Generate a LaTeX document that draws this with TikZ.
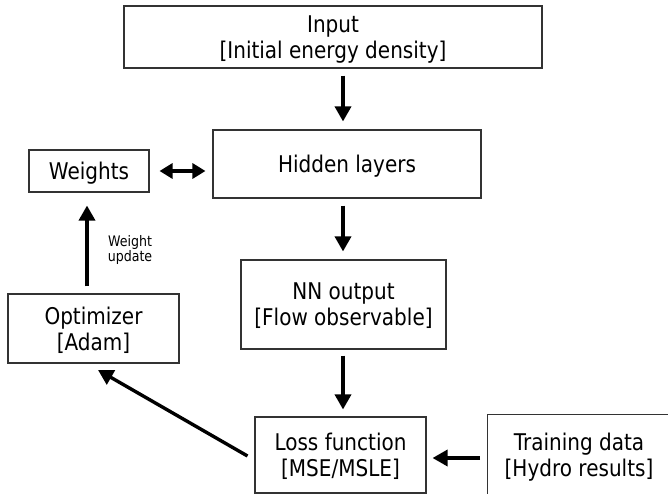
\documentclass[tikz,border=0pt]{standalone}
\usepackage{fontspec}
\setmainfont[FakeStretch=0.87]{DejaVu Sans}
\usetikzlibrary{arrows.meta}
\tikzset{
  box/.style={draw=black!80, line width=1.1pt, inner sep=0pt, align=center, text depth=0pt,
    font=\fontsize{23}{26}\selectfont},
  arr/.style={line width=3.4pt, -{Triangle[length=15pt,width=16pt]}},
  darr/.style={line width=3.4pt, {Triangle[length=13pt,width=15pt]}-{Triangle[length=13pt,width=15pt]}},
  small/.style={font=\fontsize{14.5}{15.5}\selectfont, align=center, inner sep=0pt}
}
\begin{document}
\begin{tikzpicture}[x=1pt,y=-1pt]
\useasboundingbox (0,0) rectangle (668,494);
\clip (0,0) rectangle (668,494);
\node[box, minimum width=418pt, minimum height=62pt] (inp) at (333,37) {Input\\{}[Initial energy density]};
\node[box, minimum width=268pt, minimum height=68pt] (hid) at (347,164) {Hidden layers};
\node[box, minimum width=120pt, minimum height=42pt] (w) at (89,171) {Weights};
\node[box, minimum width=171pt, minimum height=69pt] (opt) at (93.5,328.5) {Optimizer\\{}[Adam]};
\node[box, minimum width=205pt, minimum height=89pt] (nn) at (343.5,304.5) {NN output\\{}[Flow observable]};
\node[box, minimum width=171pt, minimum height=76pt] (loss) at (340.5,455) {Loss function\\{}[MSE/MSLE]};
\node[box, minimum width=190pt, minimum height=90pt, anchor=north west] (td) at (487,414) {};
\node[box, draw=none] (tdt) at (579,455) {Training data\\{}[Hydro results]};
\node[small] (wu) at (130,250) {Weight\\update};
\coordinate (ax) at (343,0);
\draw[arr, shorten <=7pt, shorten >=8pt] (inp.south -| ax) -- (hid.north -| ax);
\draw[arr, shorten <=7pt, shorten >=8pt] (hid.south -| ax) -- (nn.north -| ax);
\draw[arr, shorten <=6pt, shorten >=7pt] (nn.south -| ax) -- (loss.north -| ax);
\draw[arr, shorten <=7pt, shorten >=6pt] (td.west |- 0,458) -- (loss.east |- 0,458);
\draw[darr, shorten <=10pt, shorten >=7pt] (w.east) -- (hid.west |- w.east);
\draw[arr, shorten <=7pt, shorten >=13pt] (opt.north -| 87,0) -- (w.south -| 87,0);
\coordinate (dtip) at (98,370);
\draw[arr, shorten <=8pt] (loss.west |- 0,460) -- (dtip);
\end{tikzpicture}
\end{document}
